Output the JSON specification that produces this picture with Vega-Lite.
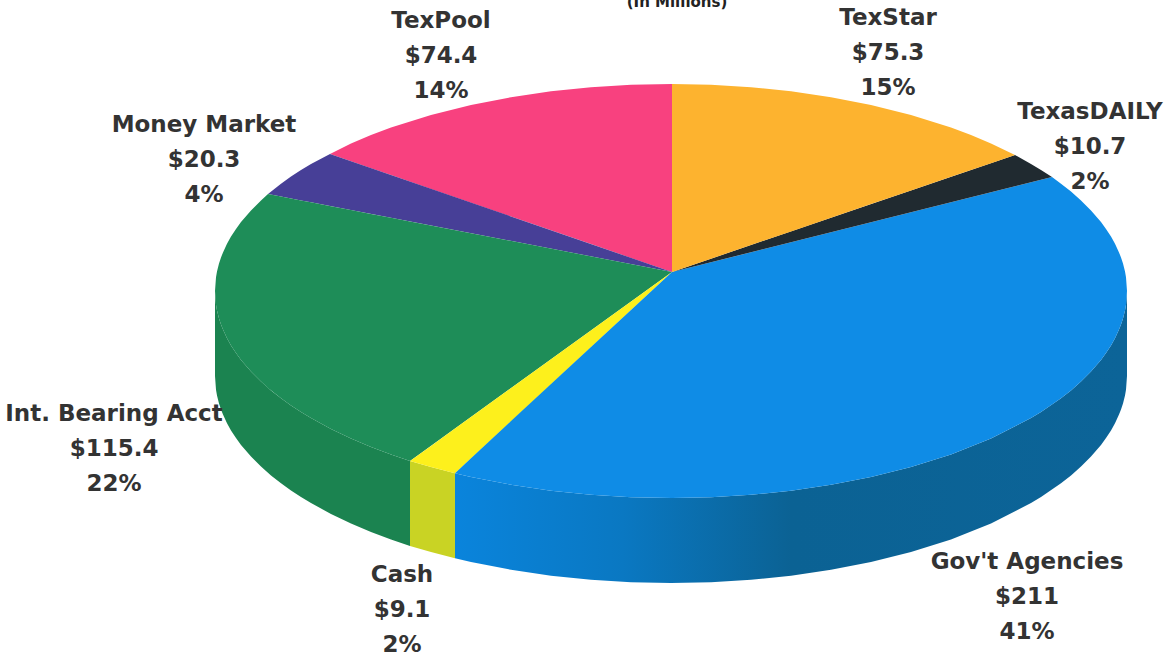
{
  "$schema": "https://vega.github.io/schema/vega-lite/v6.json",
  "width": 1166,
  "height": 658,
  "autosize": {"type": "none"},
  "padding": 0,
  "background": "white",
  "config": {"view": {"stroke": null}},
  "datasets": {
    "face": [
      {"slice": "TexPool", "x": 330, "upper": 154, "lower": 154},
      {"slice": "TexPool", "x": 351, "upper": 143.5, "lower": 161.3},
      {"slice": "TexPool", "x": 371, "upper": 135.1, "lower": 168.2},
      {"slice": "TexPool", "x": 391, "upper": 127.6, "lower": 175.1},
      {"slice": "TexPool", "x": 431, "upper": 115, "lower": 188.9},
      {"slice": "TexPool", "x": 471, "upper": 105, "lower": 202.7},
      {"slice": "TexPool", "x": 511, "upper": 97.2, "lower": 216.5},
      {"slice": "TexPool", "x": 551, "upper": 91.3, "lower": 230.3},
      {"slice": "TexPool", "x": 591, "upper": 87.2, "lower": 244.1},
      {"slice": "TexPool", "x": 631, "upper": 84.8, "lower": 257.9},
      {"slice": "TexPool", "x": 672, "upper": 84, "lower": 272},

      {"slice": "Money Market", "x": 268, "upper": 194, "lower": 194},
      {"slice": "Money Market", "x": 281, "upper": 183.7, "lower": 196.5},
      {"slice": "Money Market", "x": 291, "upper": 176.6, "lower": 198.4},
      {"slice": "Money Market", "x": 301, "upper": 170, "lower": 200.4},
      {"slice": "Money Market", "x": 311, "upper": 163.9, "lower": 202.3},
      {"slice": "Money Market", "x": 330, "upper": 154, "lower": 206},
      {"slice": "Money Market", "x": 672, "upper": 272, "lower": 272},

      {"slice": "Int. Bearing Acct", "x": 215, "upper": 291, "lower": 291},
      {"slice": "Int. Bearing Acct", "x": 216, "upper": 277.3, "lower": 304.7},
      {"slice": "Int. Bearing Acct", "x": 217, "upper": 271.6, "lower": 310.4},
      {"slice": "Int. Bearing Acct", "x": 219, "upper": 263.6, "lower": 318.4},
      {"slice": "Int. Bearing Acct", "x": 221, "upper": 257.5, "lower": 324.5},
      {"slice": "Int. Bearing Acct", "x": 223, "upper": 252.4, "lower": 329.6},
      {"slice": "Int. Bearing Acct", "x": 227, "upper": 243.8, "lower": 338.2},
      {"slice": "Int. Bearing Acct", "x": 231, "upper": 236.6, "lower": 345.4},
      {"slice": "Int. Bearing Acct", "x": 236, "upper": 228.9, "lower": 353.1},
      {"slice": "Int. Bearing Acct", "x": 241, "upper": 222.1, "lower": 359.9},
      {"slice": "Int. Bearing Acct", "x": 251, "upper": 210.4, "lower": 371.6},
      {"slice": "Int. Bearing Acct", "x": 261, "upper": 200.4, "lower": 381.6},
      {"slice": "Int. Bearing Acct", "x": 268, "upper": 194, "lower": 387.9},
      {"slice": "Int. Bearing Acct", "x": 281, "upper": 196.5, "lower": 398.3},
      {"slice": "Int. Bearing Acct", "x": 291, "upper": 198.4, "lower": 405.4},
      {"slice": "Int. Bearing Acct", "x": 301, "upper": 200.4, "lower": 412},
      {"slice": "Int. Bearing Acct", "x": 311, "upper": 202.3, "lower": 418.1},
      {"slice": "Int. Bearing Acct", "x": 331, "upper": 206.2, "lower": 428.9},
      {"slice": "Int. Bearing Acct", "x": 351, "upper": 210, "lower": 438.5},
      {"slice": "Int. Bearing Acct", "x": 371, "upper": 213.9, "lower": 446.9},
      {"slice": "Int. Bearing Acct", "x": 391, "upper": 217.7, "lower": 454.4},
      {"slice": "Int. Bearing Acct", "x": 410, "upper": 221.4, "lower": 461},
      {"slice": "Int. Bearing Acct", "x": 672, "upper": 272, "lower": 272},

      {"slice": "Cash", "x": 410, "upper": 461, "lower": 461},
      {"slice": "Cash", "x": 431, "upper": 445.9, "lower": 467},
      {"slice": "Cash", "x": 455, "upper": 428.5, "lower": 473.3},
      {"slice": "Cash", "x": 672, "upper": 272, "lower": 272},

      {"slice": "Gov't Agencies", "x": 455, "upper": 473.3, "lower": 473.3},
      {"slice": "Gov't Agencies", "x": 471, "upper": 458.2, "lower": 477},
      {"slice": "Gov't Agencies", "x": 511, "upper": 421.1, "lower": 484.8},
      {"slice": "Gov't Agencies", "x": 551, "upper": 384.1, "lower": 490.7},
      {"slice": "Gov't Agencies", "x": 591, "upper": 347, "lower": 494.8},
      {"slice": "Gov't Agencies", "x": 631, "upper": 310, "lower": 497.2},
      {"slice": "Gov't Agencies", "x": 672, "upper": 272, "lower": 498},
      {"slice": "Gov't Agencies", "x": 711, "upper": 262.3, "lower": 497.2},
      {"slice": "Gov't Agencies", "x": 751, "upper": 252.3, "lower": 494.8},
      {"slice": "Gov't Agencies", "x": 791, "upper": 242.3, "lower": 490.7},
      {"slice": "Gov't Agencies", "x": 831, "upper": 232.3, "lower": 484.8},
      {"slice": "Gov't Agencies", "x": 871, "upper": 222.3, "lower": 477},
      {"slice": "Gov't Agencies", "x": 911, "upper": 212.2, "lower": 467},
      {"slice": "Gov't Agencies", "x": 951, "upper": 202.2, "lower": 454.4},
      {"slice": "Gov't Agencies", "x": 991, "upper": 192.2, "lower": 438.5},
      {"slice": "Gov't Agencies", "x": 1031, "upper": 182.2, "lower": 418.1},
      {"slice": "Gov't Agencies", "x": 1041, "upper": 179.8, "lower": 412},
      {"slice": "Gov't Agencies", "x": 1052, "upper": 177, "lower": 404.6},
      {"slice": "Gov't Agencies", "x": 1061, "upper": 183.7, "lower": 398.3},
      {"slice": "Gov't Agencies", "x": 1071, "upper": 191.6, "lower": 390.4},
      {"slice": "Gov't Agencies", "x": 1081, "upper": 200.4, "lower": 381.6},
      {"slice": "Gov't Agencies", "x": 1091, "upper": 210.4, "lower": 371.6},
      {"slice": "Gov't Agencies", "x": 1101, "upper": 222.1, "lower": 359.9},
      {"slice": "Gov't Agencies", "x": 1106, "upper": 228.9, "lower": 353.1},
      {"slice": "Gov't Agencies", "x": 1111, "upper": 236.6, "lower": 345.4},
      {"slice": "Gov't Agencies", "x": 1115, "upper": 243.8, "lower": 338.2},
      {"slice": "Gov't Agencies", "x": 1119, "upper": 252.4, "lower": 329.6},
      {"slice": "Gov't Agencies", "x": 1121, "upper": 257.5, "lower": 324.5},
      {"slice": "Gov't Agencies", "x": 1123, "upper": 263.6, "lower": 318.4},
      {"slice": "Gov't Agencies", "x": 1125, "upper": 271.6, "lower": 310.4},
      {"slice": "Gov't Agencies", "x": 1126, "upper": 277.3, "lower": 304.7},
      {"slice": "Gov't Agencies", "x": 1127, "upper": 291, "lower": 291},

      {"slice": "TexasDAILY", "x": 672, "upper": 272, "lower": 272},
      {"slice": "TexasDAILY", "x": 1015, "upper": 155, "lower": 186.2},
      {"slice": "TexasDAILY", "x": 1031, "upper": 163.9, "lower": 182.2},
      {"slice": "TexasDAILY", "x": 1041, "upper": 170, "lower": 179.8},
      {"slice": "TexasDAILY", "x": 1052, "upper": 177, "lower": 177},

      {"slice": "TexStar", "x": 672, "upper": 84, "lower": 272},
      {"slice": "TexStar", "x": 711, "upper": 84.8, "lower": 258.7},
      {"slice": "TexStar", "x": 751, "upper": 87.2, "lower": 245},
      {"slice": "TexStar", "x": 791, "upper": 91.3, "lower": 231.4},
      {"slice": "TexStar", "x": 831, "upper": 97.2, "lower": 217.8},
      {"slice": "TexStar", "x": 871, "upper": 105, "lower": 204.1},
      {"slice": "TexStar", "x": 911, "upper": 115, "lower": 190.5},
      {"slice": "TexStar", "x": 951, "upper": 127.6, "lower": 176.8},
      {"slice": "TexStar", "x": 971, "upper": 135.1, "lower": 170},
      {"slice": "TexStar", "x": 991, "upper": 143.5, "lower": 163.2},
      {"slice": "TexStar", "x": 1015, "upper": 155, "lower": 155}
    ],
    "wall": [
      {"slice": "Int. Bearing Acct", "x": 215, "upper": 291, "lower": 376},
      {"slice": "Int. Bearing Acct", "x": 216, "upper": 304.7, "lower": 389.7},
      {"slice": "Int. Bearing Acct", "x": 217, "upper": 310.4, "lower": 395.4},
      {"slice": "Int. Bearing Acct", "x": 219, "upper": 318.4, "lower": 403.4},
      {"slice": "Int. Bearing Acct", "x": 221, "upper": 324.5, "lower": 409.5},
      {"slice": "Int. Bearing Acct", "x": 223, "upper": 329.6, "lower": 414.6},
      {"slice": "Int. Bearing Acct", "x": 227, "upper": 338.2, "lower": 423.2},
      {"slice": "Int. Bearing Acct", "x": 231, "upper": 345.4, "lower": 430.4},
      {"slice": "Int. Bearing Acct", "x": 236, "upper": 353.1, "lower": 438.1},
      {"slice": "Int. Bearing Acct", "x": 241, "upper": 359.9, "lower": 444.9},
      {"slice": "Int. Bearing Acct", "x": 251, "upper": 371.6, "lower": 456.6},
      {"slice": "Int. Bearing Acct", "x": 261, "upper": 381.6, "lower": 466.6},
      {"slice": "Int. Bearing Acct", "x": 271, "upper": 390.4, "lower": 475.4},
      {"slice": "Int. Bearing Acct", "x": 281, "upper": 398.3, "lower": 483.3},
      {"slice": "Int. Bearing Acct", "x": 291, "upper": 405.4, "lower": 490.4},
      {"slice": "Int. Bearing Acct", "x": 301, "upper": 412, "lower": 497},
      {"slice": "Int. Bearing Acct", "x": 311, "upper": 418.1, "lower": 503.1},
      {"slice": "Int. Bearing Acct", "x": 331, "upper": 428.9, "lower": 513.9},
      {"slice": "Int. Bearing Acct", "x": 351, "upper": 438.5, "lower": 523.5},
      {"slice": "Int. Bearing Acct", "x": 371, "upper": 446.9, "lower": 531.9},
      {"slice": "Int. Bearing Acct", "x": 391, "upper": 454.4, "lower": 539.4},
      {"slice": "Int. Bearing Acct", "x": 410, "upper": 461, "lower": 546},

      {"slice": "Cash", "x": 410, "upper": 461, "lower": 546},
      {"slice": "Cash", "x": 431, "upper": 467, "lower": 552},
      {"slice": "Cash", "x": 455, "upper": 473.3, "lower": 558.3},

      {"slice": "Gov't Agencies", "x": 455, "upper": 473.3, "lower": 558.3},
      {"slice": "Gov't Agencies", "x": 471, "upper": 477, "lower": 562},
      {"slice": "Gov't Agencies", "x": 511, "upper": 484.8, "lower": 569.8},
      {"slice": "Gov't Agencies", "x": 551, "upper": 490.7, "lower": 575.7},
      {"slice": "Gov't Agencies", "x": 591, "upper": 494.8, "lower": 579.8},
      {"slice": "Gov't Agencies", "x": 631, "upper": 497.2, "lower": 582.2},
      {"slice": "Gov't Agencies", "x": 671, "upper": 498, "lower": 583},
      {"slice": "Gov't Agencies", "x": 711, "upper": 497.2, "lower": 582.2},
      {"slice": "Gov't Agencies", "x": 751, "upper": 494.8, "lower": 579.8},
      {"slice": "Gov't Agencies", "x": 791, "upper": 490.7, "lower": 575.7},
      {"slice": "Gov't Agencies", "x": 831, "upper": 484.8, "lower": 569.8},
      {"slice": "Gov't Agencies", "x": 871, "upper": 477, "lower": 562},
      {"slice": "Gov't Agencies", "x": 911, "upper": 467, "lower": 552},
      {"slice": "Gov't Agencies", "x": 951, "upper": 454.4, "lower": 539.4},
      {"slice": "Gov't Agencies", "x": 991, "upper": 438.5, "lower": 523.5},
      {"slice": "Gov't Agencies", "x": 1031, "upper": 418.1, "lower": 503.1},
      {"slice": "Gov't Agencies", "x": 1041, "upper": 412, "lower": 497},
      {"slice": "Gov't Agencies", "x": 1061, "upper": 398.3, "lower": 483.3},
      {"slice": "Gov't Agencies", "x": 1071, "upper": 390.4, "lower": 475.4},
      {"slice": "Gov't Agencies", "x": 1081, "upper": 381.6, "lower": 466.6},
      {"slice": "Gov't Agencies", "x": 1091, "upper": 371.6, "lower": 456.6},
      {"slice": "Gov't Agencies", "x": 1101, "upper": 359.9, "lower": 444.9},
      {"slice": "Gov't Agencies", "x": 1106, "upper": 353.1, "lower": 438.1},
      {"slice": "Gov't Agencies", "x": 1111, "upper": 345.4, "lower": 430.4},
      {"slice": "Gov't Agencies", "x": 1115, "upper": 338.2, "lower": 423.2},
      {"slice": "Gov't Agencies", "x": 1119, "upper": 329.6, "lower": 414.6},
      {"slice": "Gov't Agencies", "x": 1121, "upper": 324.5, "lower": 409.5},
      {"slice": "Gov't Agencies", "x": 1123, "upper": 318.4, "lower": 403.4},
      {"slice": "Gov't Agencies", "x": 1125, "upper": 310.4, "lower": 395.4},
      {"slice": "Gov't Agencies", "x": 1126, "upper": 304.7, "lower": 389.7},
      {"slice": "Gov't Agencies", "x": 1127, "upper": 291, "lower": 376}
    ],
    "labels": [
      {"name": "TexPool", "value": 74.4, "amount": "$74.4", "share": "14%", "x": 441, "y": 56},
      {"name": "TexStar", "value": 75.3, "amount": "$75.3", "share": "15%", "x": 888, "y": 53},
      {"name": "TexasDAILY", "value": 10.7, "amount": "$10.7", "share": "2%", "x": 1090, "y": 147},
      {"name": "Money Market", "value": 20.3, "amount": "$20.3", "share": "4%", "x": 204, "y": 160},
      {"name": "Int. Bearing Acct", "value": 115.4, "amount": "$115.4", "share": "22%", "x": 114, "y": 449},
      {"name": "Cash", "value": 9.1, "amount": "$9.1", "share": "2%", "x": 402, "y": 610},
      {"name": "Gov't Agencies", "value": 211, "amount": "$211", "share": "41%", "x": 1027, "y": 597}
    ],
    "note": [
      {"text": "(In Millions)", "x": 677, "y": 2}
    ]
  },
  "encoding": {
    "x": {"field": "x", "type": "quantitative", "scale": {"domain": [0, 1166], "nice": false, "zero": false}, "axis": null},
    "y": {"field": "upper", "type": "quantitative", "scale": {"domain": [658, 0], "nice": false, "zero": false}, "axis": null}
  },
  "layer": [
    {
      "data": {"name": "wall"},
      "transform": [{"filter": "datum.slice === 'Int. Bearing Acct'"}],
      "mark": {"type": "area", "color": "#1b8350"},
      "encoding": {"y2": {"field": "lower"}}
    },
    {
      "data": {"name": "wall"},
      "transform": [{"filter": "datum.slice === 'Cash'"}],
      "mark": {"type": "area", "color": "#c9d324"},
      "encoding": {"y2": {"field": "lower"}}
    },
    {
      "data": {"name": "wall"},
      "transform": [{"filter": "datum.slice === \"Gov't Agencies\""}],
      "mark": {
        "type": "area",
        "color": {
          "gradient": "linear", "x1": 0, "x2": 1, "y1": 0, "y2": 0,
          "stops": [
            {"offset": 0, "color": "#0a84dc"},
            {"offset": 0.25, "color": "#0a78c2"},
            {"offset": 0.5, "color": "#0b6294"},
            {"offset": 1, "color": "#0c6498"}
          ]
        }
      },
      "encoding": {"y2": {"field": "lower"}}
    },
    {
      "data": {"name": "face"},
      "mark": {"type": "area"},
      "encoding": {
        "y2": {"field": "lower"},
        "color": {
          "field": "slice",
          "type": "nominal",
          "legend": null,
          "scale": {
            "domain": ["TexPool", "Money Market", "Int. Bearing Acct", "Cash", "Gov't Agencies", "TexasDAILY", "TexStar"],
            "range": ["#f8417f", "#473f97", "#1e8d58", "#fdf01c", "#0f8ce6", "#202a30", "#fdb32f"]
          }
        }
      }
    },
    {
      "data": {"name": "labels"},
      "mark": {"type": "text", "font": "DejaVu Sans", "fontWeight": "bold", "fontSize": 23, "color": "#333333", "dy": -35, "baseline": "middle"},
      "encoding": {"y": {"field": "y", "type": "quantitative"}, "text": {"field": "name"}}
    },
    {
      "data": {"name": "labels"},
      "mark": {"type": "text", "font": "DejaVu Sans", "fontWeight": "bold", "fontSize": 23, "color": "#333333", "baseline": "middle"},
      "encoding": {"y": {"field": "y", "type": "quantitative"}, "text": {"field": "amount"}}
    },
    {
      "data": {"name": "labels"},
      "mark": {"type": "text", "font": "DejaVu Sans", "fontWeight": "bold", "fontSize": 23, "color": "#333333", "dy": 35, "baseline": "middle"},
      "encoding": {"y": {"field": "y", "type": "quantitative"}, "text": {"field": "share"}}
    },
    {
      "data": {"name": "note"},
      "mark": {"type": "text", "font": "DejaVu Sans", "fontWeight": "bold", "fontSize": 15, "color": "#222222", "baseline": "middle"},
      "encoding": {"y": {"field": "y", "type": "quantitative"}, "text": {"field": "text"}}
    }
  ]
}
